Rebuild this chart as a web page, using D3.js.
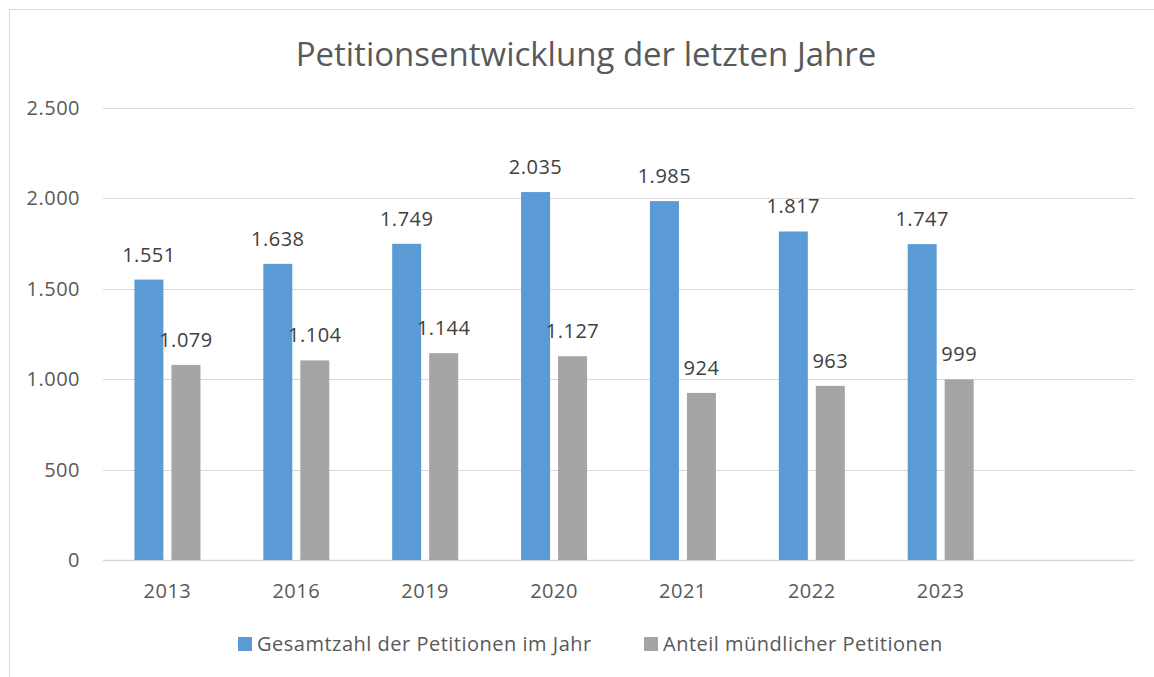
<!DOCTYPE html>
<html>
<head>
<meta charset="utf-8">
<script src="https://cdn.jsdelivr.net/npm/d3@7"></script>
<style>
  html, body { margin: 0; padding: 0; background: #fff; }
  svg { display: block; font-family: "Open Sans", "Noto Sans", sans-serif; }
</style>
</head>
<body>
<svg id="chart" width="1154" height="677"></svg>
<script>
const years = ['2013', '2016', '2019', '2020', '2021', '2022', '2023'];
const totalPetitions = [1551, 1638, 1749, 2035, 1985, 1817, 1747];
const oralPetitions = [1079, 1104, 1144, 1127, 924, 963, 999];
const yTicks = [0, 500, 1000, 1500, 2000, 2500];
const seriesNames = ['Gesamtzahl der Petitionen im Jahr', 'Anteil mündlicher Petitionen'];
const seriesColors = ['#5B9BD5', '#A5A5A5'];
const chartTitle = 'Petitionsentwicklung der letzten Jahre';

const width = 1154, height = 677;
const plot = { left: 103, right: 1134, top: 108, bottom: 560 };
const textColor = '#595959';
const fontSize = '20px', spacing = '0.5px';
const fmt = d3.formatLocale({ decimal: ',', thousands: '.', grouping: [3], currency: ['', '€'] }).format(',d');

const svg = d3.select('#chart');

// chart frame (only left/top edges visible)
svg.append('rect')
  .attr('x', 9.5).attr('y', 9.5)
  .attr('width', 1300).attr('height', 800)
  .attr('fill', 'none').attr('stroke', '#D9D9D9').attr('stroke-width', 1);

// title
svg.append('text')
  .attr('x', 586).attr('y', 66)
  .attr('text-anchor', 'middle')
  .attr('fill', textColor)
  .style('font-size', '33px')
  .text(chartTitle);

// an empty slot follows the last year, as in the original
const xScale = d3.scaleBand()
  .domain([...years, ''])
  .range([plot.left, plot.right]);

const yScale = d3.scaleLinear()
  .domain([0, 2500])
  .range([plot.bottom, plot.top]);

// gridlines
svg.append('g')
  .selectAll('line')
  .data(yTicks)
  .join('line')
  .attr('x1', plot.left).attr('x2', plot.right)
  .attr('y1', d => Math.round(yScale(d)) + 0.5)
  .attr('y2', d => Math.round(yScale(d)) + 0.5)
  .attr('stroke', '#D9D9D9').attr('stroke-width', d => d === 0 ? 1.5 : 1.2);

const styleText = g => g.selectAll('text')
  .attr('fill', textColor)
  .style('font-size', fontSize)
  .style('letter-spacing', spacing)
  .style('font-family', '"Open Sans", sans-serif');

// y axis labels
const yAxis = d3.axisLeft(yScale).tickValues(yTicks).tickFormat(fmt).tickSize(0).tickPadding(23);
svg.append('g')
  .attr('transform', `translate(${plot.left},0)`)
  .call(yAxis)
  .call(g => g.select('.domain').remove())
  .call(styleText);

// x axis labels
const xAxis = d3.axisBottom(xScale).tickSize(0).tickPadding(24);
svg.append('g')
  .attr('transform', `translate(0,${plot.bottom})`)
  .call(xAxis)
  .call(g => g.select('.domain').remove())
  .call(styleText);

// bars
const barWidth = 29, barGap = 8;
const series = [totalPetitions, oralPetitions];
const clusterOffset = (xScale.bandwidth() - (barWidth * 2 + barGap)) / 2;
const barX = (i, s) => xScale(years[i]) + clusterOffset + s * (barWidth + barGap);

series.forEach((values, s) => {
  const g = svg.append('g');
  g.selectAll('rect')
    .data(values)
    .join('rect')
    .attr('x', (d, i) => barX(i, s))
    .attr('y', d => yScale(d))
    .attr('width', barWidth)
    .attr('height', d => yScale(0) - yScale(d))
    .attr('fill', seriesColors[s]);

  g.selectAll('text')
    .data(values)
    .join('text')
    .attr('x', (d, i) => barX(i, s) + barWidth / 2)
    .attr('y', d => yScale(d) - 18)
    .attr('text-anchor', 'middle')
    .attr('fill', '#404040')
    .style('font-size', fontSize)
    .style('letter-spacing', spacing)
    .text(d => fmt(d));
});

// legend
const legend = svg.append('g').attr('transform', 'translate(238,644)');
const legendX = [0, 406];
seriesNames.forEach((name, s) => {
  const item = legend.append('g').attr('transform', `translate(${legendX[s]},0)`);
  item.append('rect')
    .attr('x', 0).attr('y', -7)
    .attr('width', 14).attr('height', 14)
    .attr('fill', seriesColors[s]);
  item.append('text')
    .attr('x', 19).attr('y', 7)
    .attr('fill', textColor)
    .style('font-size', fontSize)
    .style('letter-spacing', spacing)
    .text(name);
});
</script>
</body>
</html>
